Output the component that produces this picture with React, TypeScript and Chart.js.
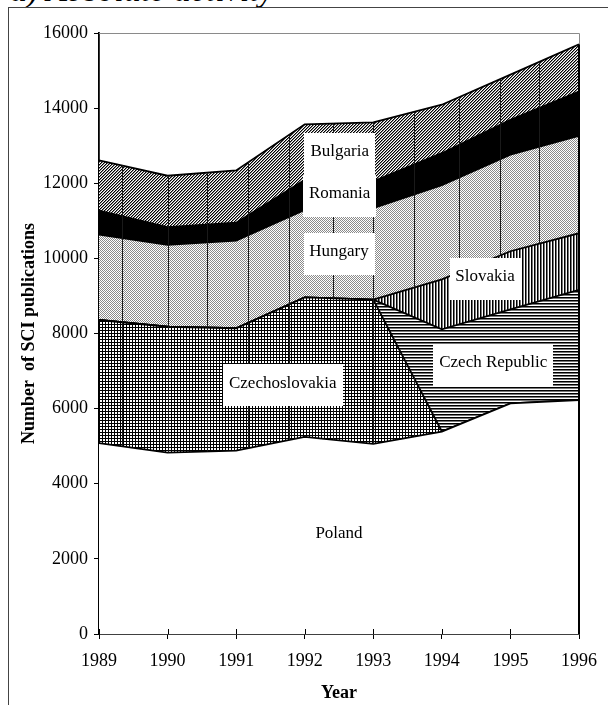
import React, { useEffect, useRef } from 'react';
import { Chart, registerables } from 'chart.js';

Chart.register(...registerables);

// ---- data ----
const years = [1989, 1990, 1991, 1992, 1993, 1994, 1995, 1996];
const poland = [5080, 4830, 4880, 5250, 5060, 5390, 6140, 6230];
const czechoslovakia = [3280, 3350, 3260, 3710, 3840, 0, 0, 0];
const czechRepublic = [0, 0, 0, 0, 0, 2720, 2500, 2930];
const slovakia = [0, 0, 0, 0, 0, 1330, 1550, 1510];
const hungary = [2270, 2180, 2330, 2330, 2440, 2510, 2570, 2590];
const romania = [640, 470, 480, 800, 710, 850, 930, 1180];
const bulgaria = [1340, 1370, 1390, 1480, 1570, 1290, 1200, 1260];

const yMin = 0;
const yMax = 16000;
const yStep = 2000;

// area name labels, anchored in data units (year, stacked value)
const areaLabels = [
  { text: 'Bulgaria', year: 1992.51, value: 12790, boxed: true },
  { text: 'Romania', year: 1992.51, value: 11660, boxed: true },
  { text: 'Hungary', year: 1992.5, value: 10116, boxed: true },
  { text: 'Czechoslovakia', year: 1991.68, value: 6616, boxed: true },
  { text: 'Slovakia', year: 1994.63, value: 9464, boxed: true },
  { text: 'Czech Republic', year: 1994.75, value: 7161, boxed: true },
  { text: 'Poland', year: 1992.5, value: 2609, boxed: false },
];

// thin vertical seam lines of the original rendering (in years)
const seamYears = [1989.33, 1990, 1990.58, 1991.18, 1991.77, 1992.41, 1993, 1993.59, 1994.25, 1994.85, 1995.42];

const FONT = "'Liberation Serif', 'Times New Roman', serif";

function makePattern(w: number, h: number, draw: (c: CanvasRenderingContext2D) => void) {
  const cv = document.createElement('canvas');
  cv.width = w;
  cv.height = h;
  const c = cv.getContext('2d')!;
  c.fillStyle = '#fff';
  c.fillRect(0, 0, w, h);
  draw(c);
  return c.createPattern(cv, 'repeat')!;
}

export default function App() {
  const ref = useRef<HTMLCanvasElement>(null);

  useEffect(() => {
    const canvas = ref.current!;

    const gridPat = makePattern(3, 3, (c) => {
      c.fillStyle = '#000';
      c.fillRect(0, 0, 3, 1);
      c.fillRect(0, 0, 1, 3);
    });
    const hLinePat = makePattern(3, 3, (c) => {
      c.fillStyle = '#000';
      c.fillRect(0, 0, 3, 1);
      c.fillStyle = '#777';
      c.fillRect(0, 1, 3, 1);
    });
    const vLinePat = makePattern(3, 3, (c) => {
      c.fillStyle = '#000';
      c.fillRect(0, 0, 1, 3);
      c.fillStyle = '#777';
      c.fillRect(1, 0, 1, 3);
    });
    const dotPat = makePattern(2, 2, (c) => {
      c.fillStyle = '#8a8a8a';
      c.fillRect(0, 0, 1, 1);
      c.fillRect(1, 1, 1, 1);
    });
    const diagPat = makePattern(3, 3, (c) => {
      for (let i = 0; i < 3; i++) {
        c.fillStyle = '#000';
        c.fillRect(i, 2 - i, 1, 1);
        c.fillStyle = '#888';
        c.fillRect((i + 1) % 3, 2 - i, 1, 1);
      }
    });

    const series = [poland, czechoslovakia, czechRepublic, slovakia, hungary, romania, bulgaria];
    const seamSeries = [1, 4, 5, 6];

    const interp = (arr: number[], t: number) => {
      let i = Math.floor(t - years[0]);
      if (i > years.length - 2) i = years.length - 2;
      if (i < 0) i = 0;
      const f = t - years[i];
      return arr[i] * (1 - f) + arr[i + 1] * f;
    };

    const seamPlugin = {
      id: 'seams',
      afterDatasetsDraw(chart: any) {
        const { ctx, scales } = chart;
        const xs = scales.x;
        const ys = scales.y;
        ctx.save();
        ctx.strokeStyle = '#1a1a1a';
        ctx.lineWidth = 1;
        for (const t of seamYears) {
          const px = Math.round(xs.getPixelForValue(t)) + 0.5;
          let cum = 0;
          for (let s = 0; s < series.length; s++) {
            const v = interp(series[s], t);
            if (seamSeries.includes(s) && v > 0) {
              ctx.beginPath();
              ctx.moveTo(px, ys.getPixelForValue(cum));
              ctx.lineTo(px, ys.getPixelForValue(cum + v));
              ctx.stroke();
            }
            cum += v;
          }
        }
        ctx.restore();
      },
    };

    const framePlugin = {
      id: 'frame',
      afterDatasetsDraw(chart: any) {
        const { ctx, chartArea, scales } = chart;
        const xs = scales.x;
        const ys = scales.y;
        const last = years.length - 1;
        let total = 0;
        for (const s of series) total += s[last];
        const topPx = ys.getPixelForValue(total);
        const xr = Math.round(xs.getPixelForValue(years[last]));
        ctx.save();
        ctx.strokeStyle = '#8a8a8a';
        ctx.lineWidth = 1;
        ctx.beginPath();
        ctx.moveTo(chartArea.left, Math.round(chartArea.top) + 0.5);
        ctx.lineTo(xr + 0.5, Math.round(chartArea.top) + 0.5);
        ctx.lineTo(xr + 0.5, topPx);
        ctx.stroke();
        ctx.strokeStyle = '#000';
        ctx.lineWidth = 2;
        ctx.beginPath();
        ctx.moveTo(xr, topPx);
        ctx.lineTo(xr, ys.getPixelForValue(0));
        ctx.stroke();
        ctx.lineWidth = 1;
        const yb = ys.getPixelForValue(0);
        for (const yr of years) {
          const px = Math.round(xs.getPixelForValue(yr)) + 0.5;
          ctx.beginPath();
          ctx.moveTo(px, yb - 5);
          ctx.lineTo(px, yb);
          ctx.stroke();
        }
        ctx.restore();
      },
    };

    const labelPlugin = {
      id: 'areaLabels',
      afterDatasetsDraw(chart: any) {
        const { ctx, scales } = chart;
        ctx.save();
        ctx.font = `17px ${FONT}`;
        ctx.textAlign = 'center';
        ctx.textBaseline = 'middle';
        for (const l of areaLabels) {
          const cx = scales.x.getPixelForValue(l.year);
          const cy = scales.y.getPixelForValue(l.value);
          if (l.boxed) {
            const w = Math.round(ctx.measureText(l.text).width + 12);
            const h = 42;
            ctx.fillStyle = '#fff';
            ctx.fillRect(Math.round(cx - w / 2), Math.round(cy - h / 2), w, h);
          }
          ctx.fillStyle = '#000';
          ctx.fillText(l.text, cx, cy - 2);
        }
        ctx.restore();
      },
    };

    const ds = (label: string, data: number[], bg: any, fill: any) => ({
      label,
      data,
      backgroundColor: bg,
      borderColor: '#000',
      borderWidth: 1.8,
      pointRadius: 0,
      pointHoverRadius: 0,
      tension: 0,
      fill,
    });

    const chart = new Chart(canvas, {
      type: 'line',
      data: {
        labels: years,
        datasets: [
          ds('Poland', poland, '#fff', 'origin'),
          ds('Czechoslovakia', czechoslovakia, gridPat, '-1'),
          ds('Czech Republic', czechRepublic, hLinePat, '-1'),
          ds('Slovakia', slovakia, vLinePat, '-1'),
          ds('Hungary', hungary, dotPat, '-1'),
          ds('Romania', romania, '#000', '-1'),
          ds('Bulgaria', bulgaria, diagPat, '-1'),
        ],
      },
      options: {
        responsive: false,
        animation: false,
        events: [],
        layout: { padding: { left: 0, top: 33, right: 21, bottom: 0 } },
        plugins: {
          legend: { display: false },
          tooltip: { enabled: false },
        },
        scales: {
          x: {
            type: 'linear',
            min: years[0],
            max: years[years.length - 1],
            afterFit: (s: any) => {
              s.height = 71;
            },
            ticks: {
              stepSize: 1,
              color: '#000',
              padding: 11,
              font: { family: FONT, size: 18 },
              callback: (v: any) => String(v),
            },
            grid: {
              display: true,
              drawOnChartArea: false,
              drawTicks: true,
              tickLength: 5,
              color: '#000',
              lineWidth: 1,
            },
            border: { display: true, color: '#000', width: 1.8 },
            title: {
              display: true,
              text: 'Year',
              color: '#000',
              font: { family: FONT, size: 18, weight: 'bold' },
              padding: { top: 0, bottom: 1 },
            },
          },
          y: {
            stacked: true,
            min: yMin,
            max: yMax,
            afterFit: (s: any) => {
              s.width = 99;
            },
            ticks: {
              stepSize: yStep,
              color: '#000',
              padding: 6,
              font: { family: FONT, size: 18 },
              callback: (v: any) => String(v),
            },
            grid: {
              display: true,
              drawOnChartArea: false,
              drawTicks: true,
              tickLength: 5,
              color: '#000',
              lineWidth: 1,
            },
            border: { display: true, color: '#000', width: 1.8 },
            title: {
              display: true,
              text: 'Number  of SCI publications',
              color: '#000',
              font: { family: FONT, size: 18, weight: 'bold' },
              padding: { top: 19, bottom: 0 },
            },
          },
        },
      } as any,
      plugins: [seamPlugin, framePlugin, labelPlugin],
    });

    return () => chart.destroy();
  }, []);

  return (
    <div
      style={{
        position: 'fixed',
        left: 0,
        top: 0,
        width: 608,
        height: 705,
        background: '#fff',
        overflow: 'hidden',
      }}
    >
      <div
        style={{
          position: 'absolute',
          left: 10,
          top: -27,
          font: `italic 34px ${FONT}`,
          lineHeight: '34px',
          whiteSpace: 'nowrap',
          color: '#000',
        }}
      >
        a) Absolute activity
      </div>
      <div
        style={{
          position: 'absolute',
          left: 8,
          top: 7,
          width: 610,
          height: 710,
          borderLeft: '1px solid #444',
          borderTop: '1px solid #444',
          background: 'transparent',
        }}
      />
      <canvas
        ref={ref}
        width={608}
        height={705}
        style={{ position: 'absolute', left: 0, top: 0, width: 608, height: 705 }}
      />
    </div>
  );
}
